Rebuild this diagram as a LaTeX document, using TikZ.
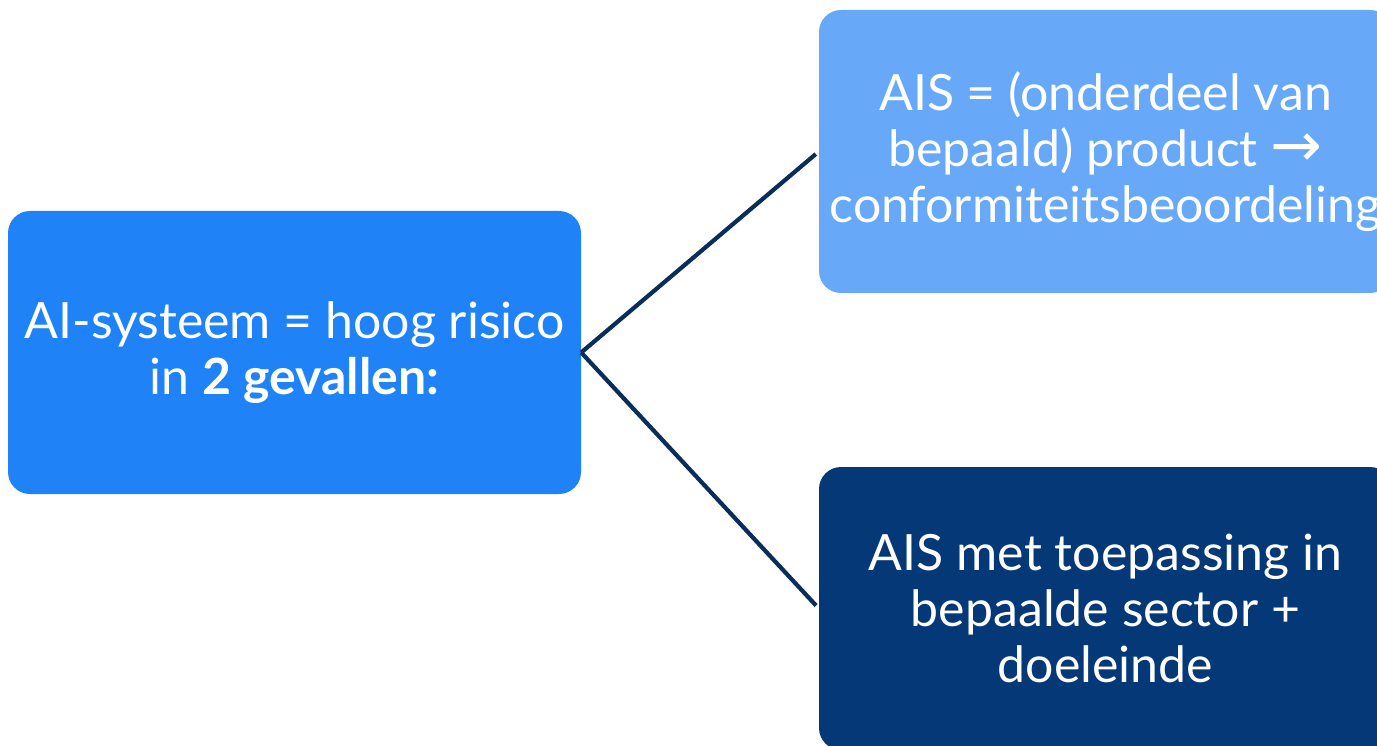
\documentclass[tikz,border=0pt]{standalone}
\usepackage{fontspec}
\setmainfont{Lato}
\newfontfamily\arrowfont{DejaVu Sans}
\definecolor{midblue}{RGB}{31,130,247}
\definecolor{lightblue}{RGB}{103,169,248}
\definecolor{navy}{RGB}{5,56,118}
\definecolor{linenavy}{RGB}{10,45,90}
\begin{document}
\begin{tikzpicture}[x=1pt,y=-1pt,
  box/.style={rounded corners=22pt, minimum width=573pt, minimum height=283pt, inner sep=0pt, draw=none},
  txt/.style={text=white, align=center, font=\fontsize{50}{56}\selectfont, inner sep=0pt},
  conn/.style={draw=linenavy, line width=4.2pt, shorten >=4pt}]
\useasboundingbox (0,0) rectangle (1377,746);
\node[box, fill=midblue] (main) at (294.5,352.5) {};
\node[box, fill=lightblue] (prod) at (1105.5,151.5) {};
\node[box, fill=navy] (sect) at (1105.5,608.5) {};
\node[txt] (maintxt) at (main.center) {AI-systeem = hoog risico\\in \textbf{2 gevallen:}};
\node[txt] (prodtxt) at (prod.center) {AIS = (onderdeel van\\bepaald) product {\arrowfont\fontsize{62}{56}\selectfont →}\\conformiteitsbeoordeling};
\node[txt] (secttxt) at (sect.center) {AIS met toepassing in\\bepaalde sector +\\doeleinde};
\draw[conn] (main.east) -- (prod.west);
\draw[conn] (main.east) -- (sect.west);
\end{tikzpicture}
\end{document}
